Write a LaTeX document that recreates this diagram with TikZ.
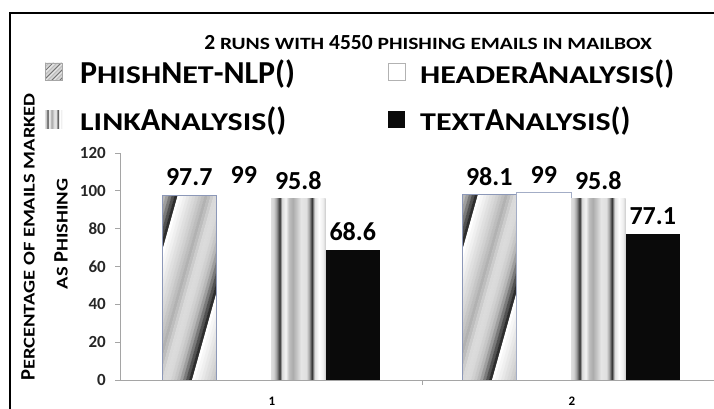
\documentclass[tikz,border=0pt]{standalone}
\usepackage{fontspec}
\setmainfont{Carlito}

\definecolor{barline}{RGB}{140,152,184}
\definecolor{axisgray}{RGB}{165,165,165}

% vertical ribs for the link bars
\pgfdeclarehorizontalshading{ribs}{100bp}{%
  color(0bp)=(gray!25); color(25bp)=(gray!25); color(27.5bp)=(gray!35);
  color(30bp)=(gray!75); color(33bp)=(black!80); color(35bp)=(gray!30);
  color(38.5bp)=(gray!8); color(41.5bp)=(gray!50); color(45bp)=(gray!65);
  color(48.5bp)=(gray!45); color(52.5bp)=(gray!20); color(57.5bp)=(gray!25);
  color(60bp)=(gray!70); color(62.5bp)=(black!80); color(65bp)=(gray!25);
  color(69bp)=(white); color(73bp)=(gray!15); color(75bp)=(gray!40);
  color(100bp)=(gray!40)}

% wide small capitals
\newcommand\smc[1]{\scalebox{1.0}[0.8]{#1}}

% twisted ribbon fill, built from slanted slices
% #1 bottom-left corner, #2 width, #3 height, #4 period, #5 phase, #6 slant
\newcommand\twistfill[6]{%
  \begin{scope}[shift={#1}, x=1pt, y=1pt]
    \clip (0,0) rectangle (#2,#3);
    \begin{scope}[xslant=#6]
      \foreach \k in {-4,...,3}
        \foreach \d [count=\i from 0] in {0,3,6,9,12,15,18,22,26,30,26,20,15,14,15,18,22,28,38,52,68,82}
          \fill[black!\d] ({#5+\k*#4+\i*#4/22},0) rectangle ++({#4/22+0.3},#3);
    \end{scope}
  \end{scope}}

\begin{document}
\begin{tikzpicture}[x=1pt,y=-1pt,
  titletext/.style={font=\fontsize{21.5}{21.5}\selectfont\bfseries, inner sep=0pt},
  legendtext/.style={font=\fontsize{32}{32}\selectfont\bfseries, anchor=base west, inner sep=0pt},
  axislabel/.style={font=\fontsize{20.5}{20.5}\selectfont\bfseries, rotate=90, inner sep=0pt},
  ticklabel/.style={font=\fontsize{17}{17}\selectfont\bfseries, anchor=east, inner sep=0pt, text=black!85},
  catlabel/.style={font=\fontsize{13}{13}\selectfont\bfseries, inner sep=0pt},
  barvalue/.style={font=\fontsize{26}{26}\selectfont\bfseries, anchor=south, inner sep=0pt, yshift=9pt},
  axisline/.style={draw=axisgray, line width=0.8pt}]
\useasboundingbox (0,0) rectangle (714,409);

% frame
\draw[line width=2pt] (10,409) -- (10,13) -- (714,13);

\node[titletext] (title) at (428,43) {2 \smc{RUNS WITH} 4550 \smc{PHISHING EMAILS IN MAILBOX}};

% legend
\twistfill{(45,80)}{17}{17}{8}{0}{1}
\draw[gray!70, line width=0.6pt] (45,63) rectangle (62,80);
\node[legendtext] (lg-phish) at (80,84) {P\smc{HISH}N\smc{ET}-NLP()};
\draw[gray!60, fill=white, line width=0.6pt] (388,63) rectangle (405,80);
\node[legendtext] (lg-header) at (420,84) {\smc{HEADER}A\smc{NALYSIS}()};
\shade[shading=ribs] (45,111) rectangle (62,128);
\node[legendtext] (lg-link) at (80,130) {\smc{LINK}A\smc{NALYSIS}()};
\fill[black!96] (388,111) rectangle (405,128);
\node[legendtext] (lg-text) at (420,130) {\smc{TEXT}A\smc{NALYSIS}()};

% y axis title
\node[axislabel] (ylabel-a) at (28,237) {P\smc{ERCENTAGE OF EMAILS MARKED}};
\node[axislabel] (ylabel-b) at (61,234) {\smc{AS} P\smc{HISHING}};

\begin{scope}[shift={(0,380)}, y=1.8917pt]
% bars, run 1
\twistfill{(162,0)}{54.5}{184.8}{66}{-36}{0.28}
\draw[barline, line width=0.6pt] (162,0) rectangle (216.5,97.7);
\fill[white] (216.5,0) rectangle (271,99);
\shade[shading=ribs] (271,0) rectangle (325.5,95.8);
\fill[black!96] (325.5,0) rectangle (380,68.6);
% bars, run 2
\twistfill{(462,0)}{54.5}{185.6}{66}{-36}{0.28}
\draw[barline, line width=0.6pt] (462,0) rectangle (516.5,98.1);
\draw[barline!80, fill=white, line width=0.5pt] (516.5,0) rectangle (571,99);
\shade[shading=ribs] (571,0) rectangle (625.5,95.8);
\fill[black!96] (625.5,0) rectangle (680,77.1);

% axes
\draw[axisline] (120,0) -- (120,120);
\draw[axisline] (120,0) -- (714,0);
\draw[axisline] (422,0) -- (422,-2.6);
\draw[axisline] (115,0) -- (120,0);
\draw[axisline] (115,20) -- (120,20);
\draw[axisline] (115,40) -- (120,40);
\draw[axisline] (115,60) -- (120,60);
\draw[axisline] (115,80) -- (120,80);
\draw[axisline] (115,100) -- (120,100);
\draw[axisline] (115,120) -- (120,120);
\node[ticklabel] (t0) at (106,0) {0};
\node[ticklabel] (t20) at (106,20) {20};
\node[ticklabel] (t40) at (106,40) {40};
\node[ticklabel] (t60) at (106,60) {60};
\node[ticklabel] (t80) at (106,80) {80};
\node[ticklabel] (t100) at (106,100) {100};
\node[ticklabel] (t120) at (106,120) {120};
\node[catlabel] (run1) at (272,-11.3) {1};
\node[catlabel] (run2) at (572,-11.3) {2};

% values
\node[barvalue] (v1a) at (189.25,97.7) {97.7};
\node[barvalue] (v1b) at (243.75,99) {99};
\node[barvalue] (v1c) at (298.25,95.8) {95.8};
\node[barvalue] (v1d) at (352.75,68.6) {68.6};
\node[barvalue] (v2a) at (489.25,98.1) {98.1};
\node[barvalue] (v2b) at (543.75,99) {99};
\node[barvalue] (v2c) at (598.25,95.8) {95.8};
\node[barvalue] (v2d) at (652.75,77.1) {77.1};
\end{scope}
\end{tikzpicture}
\end{document}
